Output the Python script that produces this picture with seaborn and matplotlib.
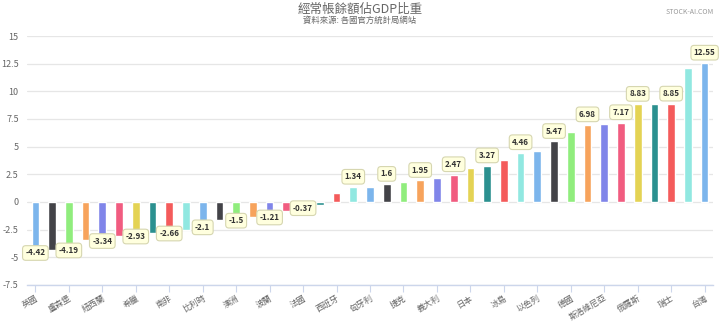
import matplotlib
matplotlib.use("Agg")
import matplotlib.pyplot as plt
import seaborn as sns
import pandas as pd

categories = [
    "英國", "土耳其", "盧森堡", "哥倫比亞", "紐西蘭", "智利", "希臘", "拉脫維亞", "南非", "加拿大",
    "比利時", "美國", "澳洲", "墨西哥", "波蘭", "芬蘭", "法國", "立陶宛", "西班牙", "愛沙尼亞",
    "匈牙利", "斯洛伐克", "捷克", "葡萄牙", "義大利", "奧地利", "日本", "瑞典", "冰島", "韓國",
    "以色列", "愛爾蘭", "德國", "丹麥", "斯洛維尼亞", "荷蘭", "俄羅斯", "挪威", "瑞士", "新加坡",
    "台灣",
]
values = [
    -4.42, -4.31, -4.19, -3.47, -3.34, -3.07, -2.93, -2.77, -2.66, -2.53,
    -2.10, -1.66, -1.50, -1.39, -1.21, -0.81, -0.37, -0.30, 0.84, 1.34,
    1.36, 1.60, 1.80, 1.95, 2.19, 2.47, 3.10, 3.27, 3.76, 4.46,
    4.60, 5.47, 6.35, 6.98, 7.07, 7.17, 8.83, 8.84, 8.85, 12.10,
    12.55,
]
# bars whose data label is visible in the reference (others hidden by overlap)
labelled = [0, 2, 4, 6, 8, 10, 12, 14, 16, 19, 21, 23, 25, 27, 29, 31, 33, 35, 36, 38, 40]
yticks = [-7.5, -5, -2.5, 0, 2.5, 5, 7.5, 10, 12.5, 15]

hc_colors = ['#7cb5ec', '#434348', '#90ed7d', '#f7a35c', '#8085e9',
             '#f15c80', '#e4d354', '#2b908f', '#f45b5b', '#91e8e1']
palette = [hc_colors[i % 10] for i in range(len(categories))]

sns.set_theme(style="white")
plt.rcParams['font.family'] = ['Noto Sans CJK TC', 'DejaVu Sans']

df = pd.DataFrame({"cat": categories, "val": values})

fig = plt.figure(figsize=(7.2, 3.22), dpi=100)
ax = fig.add_axes([27 / 720, 1 - 285 / 322, (713 - 27) / 720, (285 - 36) / 322])

sns.barplot(data=df, x="cat", y="val", hue="cat", palette=palette, legend=False,
            width=0.46, ax=ax, saturation=1, zorder=3)

ax.set_xlim(-0.5, len(categories) - 0.5)
ax.set_ylim(-7.5, 15)
ax.set_yticks(yticks)
ax.set_yticklabels([f"{t:g}" for t in yticks], fontsize=6.5, color="#666666")
ax.grid(axis="y", color="#e6e6e6", linewidth=0.9, zorder=0)
ax.tick_params(axis="y", length=0, pad=6)

for s in ["top", "right", "left"]:
    ax.spines[s].set_visible(False)
ax.spines["bottom"].set_color("#ccd6eb")
ax.spines["bottom"].set_linewidth(1.0)
ax.set_xlabel("")
ax.set_ylabel("")

tick_pos = list(range(0, len(categories), 2))
ax.set_xticks(tick_pos)
ax.set_xticklabels([categories[i] for i in tick_pos], rotation=30, ha="right",
                   rotation_mode="anchor", fontsize=6, color="#666666")
ax.tick_params(axis="x", length=5, width=0.8, color="#ccd6eb", pad=1, bottom=True)

for i in labelled:
    v = values[i]
    if v >= 0:
        off = (0, 7.5)
    else:
        off = (0, -1.5)
    ax.annotate(f"{v:g}", xy=(i, v), xytext=off, textcoords="offset points",
                ha="center", va="center", fontsize=5.8, color="#333333",
                fontweight="bold", zorder=6,
                bbox=dict(boxstyle="round,pad=0.35,rounding_size=0.4",
                          fc="#ffffde", ec="#d6d6b0", lw=0.8))

fig.text(0.5, 1 - 9 / 322, "經常帳餘額佔GDP比重", ha="center", va="center",
         fontsize=9, color="#666666")
fig.text(0.5, 1 - 20 / 322, "資料來源: 各國官方統計局網站", ha="center", va="center",
         fontsize=6, color="#666666")
fig.text(714 / 720, 1 - 12 / 322, "STOCK-AI.COM", ha="right", va="center",
         fontsize=5, color="#999999")

fig.savefig("out.png", dpi=100)
